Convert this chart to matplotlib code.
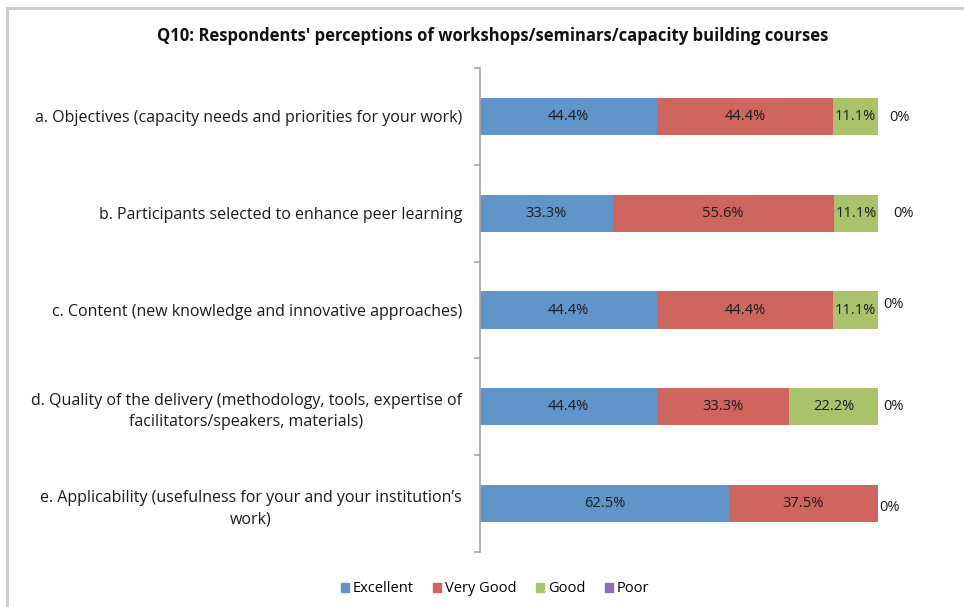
import matplotlib
matplotlib.use("Agg")
import matplotlib.pyplot as plt
from matplotlib.lines import Line2D
from matplotlib.patches import Rectangle

categories = [
    "a. Objectives (capacity needs and priorities for your work)",
    "b. Participants selected to enhance peer learning",
    "c. Content (new knowledge and innovative approaches)",
    "d. Quality of the delivery (methodology, tools, expertise of\nfacilitators/speakers, materials)",
    "e. Applicability (usefulness for your and your institution\u2019s\nwork)",
]
series_names = ["Excellent", "Very Good", "Good", "Poor"]
excellent = [44.4, 33.3, 44.4, 44.4, 62.5]
very_good = [44.4, 55.6, 44.4, 33.3, 37.5]
good = [11.1, 11.1, 11.1, 22.2, 0.0]
poor = [0.0, 0.0, 0.0, 0.0, 0.0]
title = "Q10: Respondents' perceptions of workshops/seminars/capacity building courses"

colors = ["#6194C9", "#CE655F", "#A9C36C", "#8A72AE"]
series = [excellent, very_good, good, poor]

plt.rcParams['font.family'] = ['Open Sans', 'DejaVu Sans']

fig = plt.figure(figsize=(9.64, 6.07), dpi=100)
fig.patch.set_facecolor("white")

# outer chart border
fig.add_artist(Line2D([7/964, 7/964], [0, 1 - 8/607], transform=fig.transFigure,
                      color="#c9c9c9", lw=2))
fig.add_artist(Line2D([7/964, 1], [1 - 8/607, 1 - 8/607], transform=fig.transFigure,
                      color="#c9c9c9", lw=2))

ax = fig.add_axes([480/964, 1 - 552/607, (878 - 480)/964, (552 - 68)/607])
n = len(categories)
ypos = list(range(n))
left = [0.0] * n
for name, vals, col in zip(series_names, series, colors):
    ax.barh(ypos, vals, left=left, height=0.385, color=col, label=name,
            edgecolor="none")
    for i, (v, l) in enumerate(zip(vals, left)):
        if v > 0:
            ax.text(l + v / 2, i, f"{v:.1f}%", ha="center", va="center",
                    fontsize=10.5, color="#1a1a1a")
    left = [l + v for l, v in zip(left, vals)]

# zero labels for Poor
zero_dx = [8.6, 11, 4.3, 4.3, 0.7]
zero_dy = [-0.5, 0, 3.6, 0, -3]
for i, (v, tot) in enumerate(zip(poor, left)):
    ax.annotate(f"{v:.0f}%", (tot, i), xytext=(zero_dx[i], zero_dy[i]),
                textcoords="offset points", ha="left", va="center",
                fontsize=10.5, color="#1a1a1a", annotation_clip=False)

ax.set_xlim(0, 100)
ax.set_ylim(n - 0.5, -0.5)
ax.set_yticks(ypos)
ax.set_yticklabels(categories, fontsize=11.5, ha="right", multialignment="center",
                   color="#1a1a1a", linespacing=1.45)
ax.tick_params(axis="y", which="major", length=0, pad=13)
ax.set_yticks([i - 0.5 for i in range(n + 1)], minor=True)
ax.tick_params(axis="y", which="minor", length=4, color="#a6a6a6", width=1.2)
ax.xaxis.set_visible(False)
for s in ["top", "right", "bottom"]:
    ax.spines[s].set_visible(False)
ax.spines["left"].set_color("#a6a6a6")
ax.spines["left"].set_linewidth(1.2)

fig.text(493/964, 1 - 36/607, title, ha="center", va="center", fontsize=12,
         fontweight="bold", color="#111111")

handles = [Rectangle((0, 0), 1, 1, color=c) for c in colors]
fig.legend(handles, series_names, loc="center", bbox_to_anchor=(495/964, 1 - 589/607),
           ncol=4, frameon=False, fontsize=10.5, handlelength=0.55,
           handleheight=0.55, handletextpad=0.3, columnspacing=1.3)

fig.savefig("out.png", dpi=100, facecolor="white")
